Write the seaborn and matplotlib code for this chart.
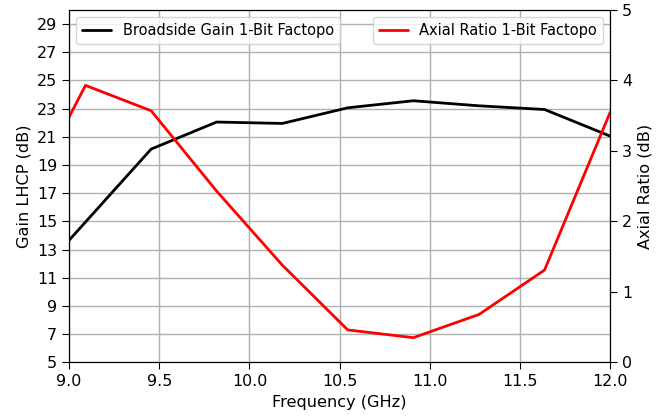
import matplotlib
matplotlib.use("Agg")
import matplotlib.pyplot as plt
import seaborn as sns
import pandas as pd

# Broadside gain (left axis)
gain_freq = [9.0, 9.455, 9.818, 10.182, 10.545, 10.909, 11.273, 11.636, 12.0]
gain_db = [13.66, 20.13, 22.05, 21.95, 23.06, 23.56, 23.2, 22.94, 21.05]

# Axial ratio (right axis)
ar_freq = [9.0, 9.091, 9.455, 9.818, 10.182, 10.545, 10.909, 11.273, 11.636, 12.0]
ar_db = [3.48, 3.93, 3.57, 2.43, 1.38, 0.46, 0.35, 0.68, 1.31, 3.55]

gain_ticks = list(range(5, 30, 2))
ar_ticks = [0, 1, 2, 3, 4, 5]
freq_ticks = [9.0, 9.5, 10.0, 10.5, 11.0, 11.5, 12.0]

sns.set_style("ticks")
plt.rcParams["font.family"] = ["DejaVu Sans"]
plt.rcParams.update({
    "text.color": "black",
    "axes.labelcolor": "black",
    "xtick.color": "black",
    "ytick.color": "black",
    "axes.edgecolor": "black",
})
TICK_FS = 11.4
LABEL_FS = 11.6
LEGEND_FS = 10.5

gain_df = pd.DataFrame({"f": gain_freq, "g": gain_db})
ar_df = pd.DataFrame({"f": ar_freq, "a": ar_db})

fig = plt.figure(figsize=(6.64, 4.16), dpi=100)
ax = fig.add_axes([0.104, 0.129, 0.815, 0.847])
sns.lineplot(data=gain_df, x="f", y="g", ax=ax, color="black", linewidth=2,
             label="Broadside Gain 1-Bit Factopo")
ax.set_xlim(9.0, 12.0)
ax.set_ylim(5, 30)
ax.set_xticks(freq_ticks)
ax.set_yticks(gain_ticks)
ax.grid(True, color="#b0b0b0", linewidth=1)
ax.set_xlabel("Frequency (GHz)", fontsize=LABEL_FS)
ax.set_ylabel("Gain LHCP (dB)", fontsize=LABEL_FS)
ax.tick_params(labelsize=TICK_FS, direction="out", length=5, colors="black")
ax.legend(loc="upper left", fontsize=LEGEND_FS, frameon=True, edgecolor="0.8")

ax2 = ax.twinx()
sns.lineplot(data=ar_df, x="f", y="a", ax=ax2, color="red", linewidth=2,
             label="Axial Ratio 1-Bit Factopo")
ax2.set_ylim(0, 5)
ax2.set_yticks(ar_ticks)
ax2.set_ylabel("Axial Ratio (dB)", fontsize=LABEL_FS)
ax2.tick_params(labelsize=TICK_FS, direction="out", length=5, colors="black")
ax2.legend(loc="upper right", fontsize=LEGEND_FS, frameon=True, edgecolor="0.8")

fig.savefig("out.png", dpi=100)
